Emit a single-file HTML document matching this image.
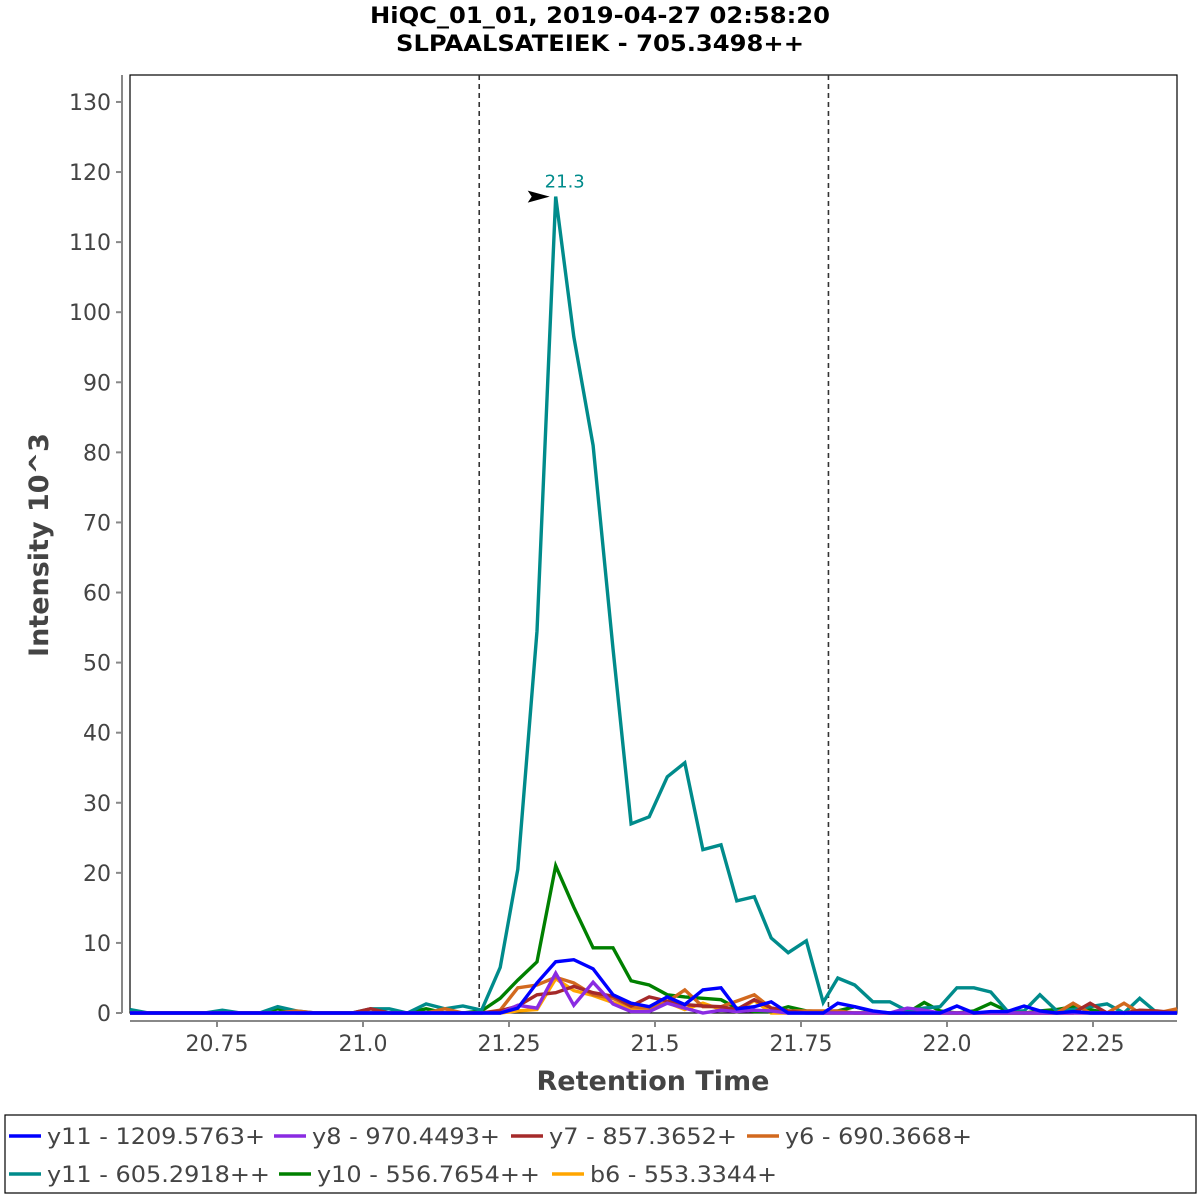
<!DOCTYPE html>
<html><head><meta charset="utf-8"><style>
body{margin:0;background:#fff;}
svg{display:block;font-family:"DejaVu Sans","Liberation Sans",sans-serif;}
</style></head><body>
<svg id="chart" width="1200" height="1200" viewBox="0 0 1200 1200">
<text x="600" y="23" text-anchor="middle" font-size="22" font-weight="bold" textLength="460" lengthAdjust="spacingAndGlyphs">HiQC_01_01, 2019-04-27 02:58:20</text>
<text x="600" y="51" text-anchor="middle" font-size="22" font-weight="bold" textLength="408" lengthAdjust="spacingAndGlyphs">SLPAALSATEIEK - 705.3498++</text>
<rect x="130" y="75" width="1047" height="938" fill="#fff" stroke="#000" stroke-width="1.2"/>
<g id="yaxis"></g>
<g id="xaxis"></g>
<text transform="translate(48,545) rotate(-90)" text-anchor="middle" font-size="27" font-weight="bold" fill="#444">Intensity 10^3</text>
<text x="653" y="1090" text-anchor="middle" font-size="27" font-weight="bold" fill="#444">Retention Time</text>
<g id="series"></g>
<g id="annot"></g>
<rect x="5" y="1115" width="1191" height="78" fill="#fff" stroke="#000" stroke-width="1.2"/>
<g id="legend"></g>
</svg>
<script>
const times=[20.601,20.633,20.664,20.696,20.728,20.759,20.791,20.823,20.854,20.886,20.918,20.949,20.981,21.013,21.045,21.076,21.108,21.140,21.171,21.203,21.235,21.265,21.298,21.330,21.361,21.394,21.428,21.459,21.490,21.521,21.551,21.582,21.613,21.640,21.670,21.699,21.728,21.759,21.788,21.813,21.842,21.873,21.902,21.932,21.961,21.988,22.017,22.046,22.075,22.103,22.132,22.159,22.188,22.216,22.245,22.274,22.303,22.330,22.360,22.394];
const yTicks=[0,10,20,30,40,50,60,70,80,90,100,110,120,130];
const xTicks=[20.75,21.0,21.25,21.5,21.75,22.0,22.25];
const xTickLabels=["20.75","21.0","21.25","21.5","21.75","22.0","22.25"];
const boundaries=[21.199,21.797];
const peakTime=21.330, peakValue=116.5, peakLabel="21.3";
const seriesNames=["y11 - 1209.5763+","y8 - 970.4493+","y7 - 857.3652+","y6 - 690.3668+","y11 - 605.2918++","y10 - 556.7654++","b6 - 553.3344+"];
const seriesColors=["#0000ff","#8a2be2","#a52a2a","#d2691e","#008b8b","#008000","#ffa500"];
const sY11=[0,0,0,0,0,0,0,0,0,0,0,0,0,0,0,0,0,0,0,0,0,0.7,4.3,7.3,7.6,6.3,2.6,1.4,0.9,2.3,1.2,3.3,3.6,0.6,0.9,1.6,0,0,0,1.4,0.9,0.3,0,0,0,0,1.0,0,0.2,0.2,1.0,0.3,0,0.2,0,0,0,0,0,0];
const sY8=[0,0,0,0,0,0,0,0,0,0,0,0,0,0,0,0,0,0,0,0,0,1.1,0.7,5.7,1.1,4.4,1.3,0.2,0.2,1.4,0.7,0,0.4,0.2,0.4,0.3,0,0,0,0,0,0,0,0.7,0.4,0,0,0,0,0,0,0,0,0,0,0,0,0,0,0];
const sY7=[0,0,0,0,0,0,0,0,0,0,0,0,0,0.6,0,0,0,0,0,0,0.3,1.0,2.6,2.9,3.8,2.9,2.4,1.0,2.3,1.7,1.2,1.0,0.9,0.5,1.9,0.7,0.3,0,0,0,0,0,0,0,0,0,0,0,0,0,0,0,0,0,1.4,0,0,0.4,0.3,0];
const sY6=[0,0,0,0,0,0,0,0,0,0.3,0,0,0,0,0,0,0,0.6,0,0,0.4,3.6,4.0,5.1,4.3,2.6,2.1,0.9,0.7,1.6,3.3,0.9,0.9,1.7,2.6,0.7,0.3,0.3,0.3,0.3,0,0,0,0,0,0,0,0,0,0,0,0,0,1.4,0,0,1.4,0,0,0.6];
const sY11b=[0.5,0,0,0,0,0.4,0,0,0.9,0.3,0,0,0,0.6,0.6,0,1.3,0.6,1.0,0.4,6.5,20.5,54.5,116.5,96.5,81,52,27,28,33.7,35.7,23.3,24,16,16.6,10.7,8.6,10.3,1.5,5.0,4.0,1.6,1.6,0.3,0.7,0.9,3.6,3.6,3.0,0.3,0.3,2.6,0.3,0.5,0.9,1.3,0,2.1,0,0.3];
const sY10=[0,0,0,0,0,0,0,0,0.6,0,0,0,0,0,0,0,0.6,0,0,0.3,2.1,4.7,7.3,21,15.1,9.3,9.3,4.6,4.0,2.6,2.3,2.1,1.9,0.7,0.2,0.2,0.9,0.3,0.2,0.3,0.9,0.2,0,0,1.5,0.3,0,0.3,1.4,0.3,0,0.3,0.5,0.9,0.5,0,0,0,0,0];
const sB6=[0,0,0,0,0,0,0,0,0,0,0,0,0,0,0,0,0,0,0,0,0,0.3,0.5,4.9,3.2,2.5,1.5,0.5,0.3,1.5,0.5,1.4,0.5,0.2,1.8,0,0,0,0,0,0,0,0,0,0,0,0,0,0,0,0,0,0,0,0,0,0,0,0,0];
const seriesData=[sY11,sY8,sY7,sY6,sY11b,sY10,sB6];

const NS="http://www.w3.org/2000/svg";
const X=t=>217+(t-20.75)*584;
const Y=v=>1013-v*7.008;
function mk(tag,attrs,parent){const e=document.createElementNS(NS,tag);for(const k in attrs)e.setAttribute(k,attrs[k]);parent.appendChild(e);return e;}
const ya=document.getElementById('yaxis'), xa=document.getElementById('xaxis');
let l=mk('line',{x1:122,y1:75,x2:122,y2:1013,stroke:'#888','stroke-width':2},ya);


yTicks.forEach(v=>{
  const t=mk('line',{x1:116,y1:Y(v),x2:122,y2:Y(v),stroke:'#888','stroke-width':2},ya);
  
  
  const tx=mk('text',{x:111,y:Y(v)+8,'text-anchor':'end','font-size':22,fill:'#444'},ya);
  tx.textContent=String(v);
  
  
});
l=mk('line',{x1:130,y1:1021,x2:1177,y2:1021,stroke:'#888','stroke-width':2},xa);


xTicks.forEach((v,i)=>{
  const t=mk('line',{x1:X(v),y1:1021,x2:X(v),y2:1027,stroke:'#888','stroke-width':2},xa);
  
  
  const tx=mk('text',{x:X(v),y:1051,'text-anchor':'middle','font-size':22,fill:'#444'},xa);
  tx.textContent=xTickLabels[i];
  
  
});
const sg=document.getElementById('series');
boundaries.forEach(b=>{
  const d=mk('line',{x1:X(b),y1:75,x2:X(b),y2:1013,stroke:'#333','stroke-width':1.6,'stroke-dasharray':'5,4'},sg);
  
  
});
const order=[6,5,4,3,2,1,0];
order.forEach(si=>{
  const pts=times.map((t,i)=>X(t).toFixed(1)+','+Y(seriesData[si][i]).toFixed(1)).join(' ');
  const p=mk('polyline',{points:pts,fill:'none',stroke:seriesColors[si],'stroke-width':3.4,'stroke-linejoin':'miter'},sg);
  
  
});
const an=document.getElementById('annot');
const px=X(peakTime), py=Y(peakValue);
const ar=mk('polygon',{points:`${px-28},${py-6} ${px-6},${py} ${px-28},${py+6} ${px-24},${py}`,fill:'#000'},an);


const at=mk('text',{x:px+9,y:py-9,'text-anchor':'middle','font-size':18,fill:'#008b8b'},an);
at.textContent=peakLabel;


const lg=document.getElementById('legend');
const pos=[[9,1136],[274,1136],[511,1136],[747,1136],[9,1174],[279,1174],[552,1174]];
const lens=[218,188,188,187,223,223,187];
seriesNames.forEach((n,i)=>{
  const [x,y]=pos[i];
  const g=mk('g',{},lg);
  
  
  mk('line',{x1:x,y1:y,x2:x+32,y2:y,stroke:seriesColors[i],'stroke-width':3.5},g);
  const t=mk('text',{x:x+38,y:y+8,'font-size':22,fill:'#444',textLength:lens[i],lengthAdjust:'spacingAndGlyphs'},g);
  t.textContent=n;
});
</script>
</body></html>
